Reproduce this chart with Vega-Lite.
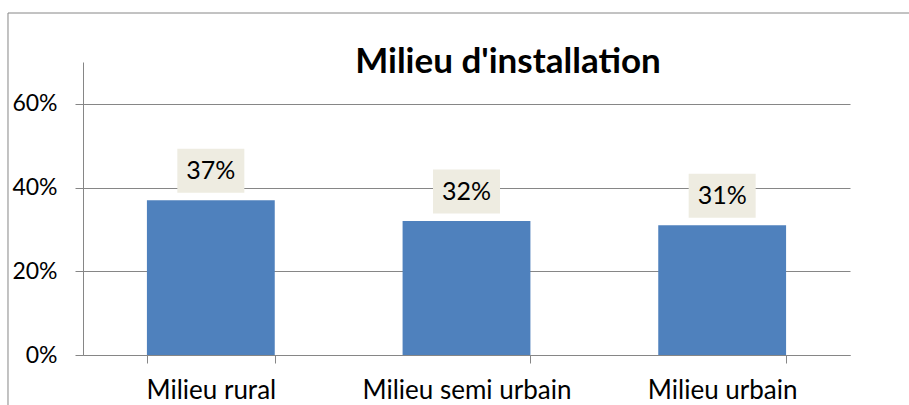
{
  "$schema": "https://vega.github.io/schema/vega-lite/v6.json",
  "width": 767,
  "height": 293,
  "autosize": {"type": "none"},
  "padding": {"left": 83, "top": 62, "right": 59, "bottom": 50},
  "background": "white",
  "config": {"view": {"stroke": null}, "font": "Lato"},
  "title": {
    "text": "Milieu d'installation",
    "font": "Lato",
    "fontSize": 35,
    "fontWeight": "bold",
    "color": "black",
    "anchor": "middle",
    "frame": "group",
    "dx": 41.5,
    "offset": -95,
    "baseline": "alphabetic"
  },
  "layer": [
    {
      "data": {"values": [{"frame": 1}]},
      "mark": {"type": "rect", "filled": false, "stroke": "#868686", "strokeWidth": 1},
      "encoding": {
        "x": {"datum": -0.0978, "type": "quantitative", "scale": {"domain": [0, 1], "nice": false, "zero": false}, "axis": null},
        "x2": {"datum": 1.5},
        "y": {"datum": 1.1672, "type": "quantitative", "scale": {"domain": [0, 1], "nice": false, "zero": false}, "axis": null},
        "y2": {"datum": -0.5}
      }
    },
    {
      "data": {
        "values": [
          {"milieu": "Milieu rural", "pct": 0.37},
          {"milieu": "Milieu semi urbain", "pct": 0.32},
          {"milieu": "Milieu urbain", "pct": 0.31}
        ]
      },
      "encoding": {
        "x": {
          "field": "milieu",
          "type": "nominal",
          "sort": null,
          "scale": {"paddingInner": 0.5, "paddingOuter": 0.25},
          "axis": {
            "title": null,
            "labelAngle": 0,
            "labelFont": "Lato",
            "labelFontSize": 26,
            "labelLimit": 400,
            "labelColor": "black",
            "domainColor": "#868686",
            "tickColor": "#868686",
            "tickSize": 8,
            "tickBand": "extent",
            "labelPadding": 14
          }
        },
        "y": {
          "field": "pct",
          "type": "quantitative",
          "scale": {"domain": [0, 0.7], "nice": false},
          "axis": {
            "title": null,
            "values": [0, 0.2, 0.4, 0.6],
            "format": ".0%",
            "labelFont": "Lato",
            "labelFontSize": 23,
            "labelColor": "black",
            "domainColor": "#868686",
            "tickColor": "#868686",
            "gridColor": "#868686",
            "grid": true,
            "tickSize": 8,
            "labelPadding": 18
          }
        }
      },
      "layer": [
        {"mark": {"type": "bar", "color": "#4F81BD"}},
        {"mark": {"type": "tick", "color": "#EEECE1", "opacity": 1, "size": 67, "thickness": 44, "yOffset": -29.5}},
        {
          "mark": {"type": "text", "font": "Lato", "fontSize": 25, "color": "black", "baseline": "middle", "dy": -29.5},
          "encoding": {"text": {"field": "pct", "type": "quantitative", "format": ".0%"}}
        }
      ]
    }
  ],
  "resolve": {"scale": {"x": "independent", "y": "independent"}}
}
